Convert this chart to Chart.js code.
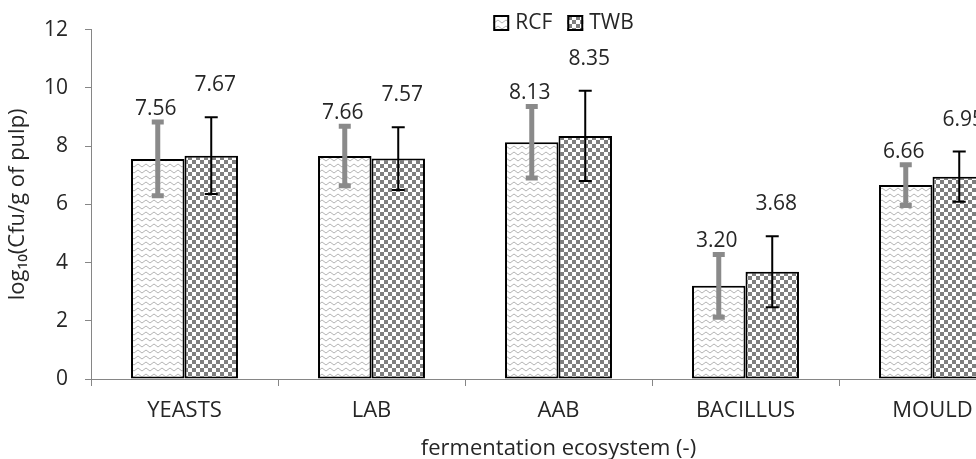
<!DOCTYPE html>
<html>
<head>
<meta charset="utf-8">
<script src="https://cdn.jsdelivr.net/npm/chart.js@4.4.0/dist/chart.umd.min.js"></script>
<style>
  html, body { margin: 0; padding: 0; background: #fff; overflow: hidden; }
</style>
</head>
<body>
<canvas id="chart" width="1040" height="459"></canvas>
<script>
const categories = ["YEASTS", "LAB", "AAB", "BACILLUS", "MOULD"];
const seriesNames = ["RCF", "TWB"];
const rcfValues = [7.56, 7.66, 8.13, 3.20, 6.66];
const twbValues = [7.67, 7.57, 8.35, 3.68, 6.95];
const rcfErrors = [1.27, 1.02, 1.23, 1.08, 0.70];
const twbErrors = [1.32, 1.08, 1.55, 1.22, 0.86];
const yTicks = [0, 2, 4, 6, 8, 10, 12];

const FONT = "'Open Sans', sans-serif";
const TEXT = "#262626";
const AXIS = "#868686";

// ---------------- PATTERNS ----------------
function makePattern(w, h, draw) {
  const pc = document.createElement("canvas");
  pc.width = w;
  pc.height = h;
  const g = pc.getContext("2d");
  g.fillStyle = "#fff";
  g.fillRect(0, 0, w, h);
  draw(g);
  return document.createElement("canvas").getContext("2d").createPattern(pc, "repeat");
}

const wavePattern = makePattern(8, 6, g => {
  g.strokeStyle = "#b4b4b4";
  g.lineWidth = 1;
  g.beginPath();
  g.moveTo(0, 3.5);
  g.quadraticCurveTo(2, 0.5, 4, 3.5);
  g.quadraticCurveTo(6, 6.5, 8, 3.5);
  g.stroke();
});

const checkPattern = makePattern(8, 8, g => {
  g.fillStyle = "#7f7f7f";
  g.fillRect(0, 0, 4, 4);
  g.fillRect(4, 4, 4, 4);
});

// ---------------- PLUGINS ----------------
const errorBars = {
  id: "errorBars",
  afterDatasetsDraw(chart, args, opts) {
    const { ctx } = chart;
    const y = chart.scales.y;
    chart.data.datasets.forEach((ds, i) => {
      const st = opts.styles[i];
      chart.getDatasetMeta(i).data.forEach((bar, j) => {
        const v = ds.data[j], e = ds.errors[j];
        const top = y.getPixelForValue(v + e);
        const bot = y.getPixelForValue(v - e);
        ctx.save();
        ctx.strokeStyle = st.color;
        ctx.lineWidth = st.width;
        ctx.lineCap = "butt";
        ctx.beginPath();
        ctx.moveTo(bar.x, top);
        ctx.lineTo(bar.x, bot);
        ctx.moveTo(bar.x - st.cap / 2, top);
        ctx.lineTo(bar.x + st.cap / 2, top);
        ctx.moveTo(bar.x - st.cap / 2, bot);
        ctx.lineTo(bar.x + st.cap / 2, bot);
        ctx.stroke();
        ctx.restore();
      });
    });
  }
};

const valueLabels = {
  id: "valueLabels",
  afterDatasetsDraw(chart, args, opts) {
    const { ctx } = chart;
    const y = chart.scales.y;
    ctx.save();
    ctx.font = opts.font;
    ctx.fillStyle = TEXT;
    ctx.textAlign = "center";
    ctx.textBaseline = "middle";
    chart.data.datasets.forEach((ds, i) => {
      chart.getDatasetMeta(i).data.forEach((bar, j) => {
        const top = y.getPixelForValue(ds.data[j] + ds.errors[j]);
        ctx.fillText(ds.data[j].toFixed(2), bar.x + opts.dx[i], top - opts.lift[i]);
      });
    });
    ctx.restore();
  }
};

const patternLegend = {
  id: "patternLegend",
  afterDraw(chart, args, opts) {
    const { ctx, chartArea } = chart;
    ctx.save();
    ctx.font = opts.font;
    ctx.textBaseline = "middle";
    const items = chart.data.datasets.map(ds => ({ ds, w: ctx.measureText(ds.label).width }));
    let total = 0;
    items.forEach((it, k) => { total += opts.box + opts.gap + it.w + (k ? opts.spacing : 0); });
    let x = (chartArea.left + chartArea.right) / 2 + opts.shift - total / 2;
    items.forEach(it => {
      ctx.fillStyle = it.ds.backgroundColor;
      ctx.fillRect(x, opts.y - opts.box / 2, opts.box, opts.box);
      ctx.strokeStyle = "#000";
      ctx.lineWidth = 2;
      ctx.strokeRect(x + 1, opts.y - opts.box / 2 + 1, opts.box - 2, opts.box - 2);
      ctx.fillStyle = TEXT;
      ctx.fillText(it.ds.label, x + opts.box + opts.gap, opts.y);
      x += opts.box + opts.gap + it.w + opts.spacing;
    });
    ctx.restore();
  }
};

// ---------------- CHART ----------------
new Chart(document.getElementById("chart"), {
  type: "bar",
  data: {
    labels: categories,
    datasets: [
      {
        label: seriesNames[0],
        data: rcfValues,
        errors: rcfErrors,
        backgroundColor: wavePattern,
        borderColor: "#000",
        borderWidth: 2,
        borderSkipped: false
      },
      {
        label: seriesNames[1],
        data: twbValues,
        errors: twbErrors,
        backgroundColor: checkPattern,
        borderColor: "#000",
        borderWidth: 2,
        borderSkipped: false
      }
    ]
  },
  options: {
    responsive: false,
    animation: false,
    events: [],
    layout: { padding: { top: 24, right: 14, left: 0, bottom: 0 } },
    datasets: { bar: { categoryPercentage: 0.572, barPercentage: 1 } },
    scales: {
      x: {
        grid: { drawOnChartArea: false, drawTicks: true, tickLength: 7, color: AXIS, offset: true },
        border: { color: AXIS, width: 1 },
        ticks: { color: TEXT, font: { family: FONT, size: 22 }, padding: 12, maxRotation: 0, autoSkip: false },
        title: {
          display: true,
          text: "fermentation ecosystem (-)",
          color: TEXT,
          font: { family: FONT, size: 22, lineHeight: 1 },
          padding: { top: 0, bottom: -1 }
        },
        afterFit: s => { s.height = 80; }
      },
      y: {
        min: yTicks[0],
        max: yTicks[yTicks.length - 1],
        afterBuildTicks: s => { s.ticks = yTicks.map(v => ({ value: v })); },
        grid: { drawOnChartArea: false, drawTicks: true, tickLength: 6, color: AXIS },
        border: { color: AXIS, width: 1 },
        ticks: { color: TEXT, font: { family: FONT, size: 21 }, padding: 17 },
        title: {
          display: true,
          text: "log\u2081\u2080(Cfu/g of pulp)",
          color: TEXT,
          font: { family: FONT, size: 22, lineHeight: 1 },
          padding: { top: 7, bottom: 0 }
        },
        afterFit: s => { s.width = 91; }
      }
    },
    plugins: {
      legend: { display: false },
      tooltip: { enabled: false },
      errorBars: {
        styles: [
          { color: "#8a8a8a", width: 5, cap: 12 },
          { color: "#000", width: 2, cap: 13 }
        ]
      },
      valueLabels: { font: "21px " + FONT, lift: [13, 32], dx: [-2, 4] },
      patternLegend: { font: "21px " + FONT, y: 23, box: 16, gap: 6, spacing: 15, shift: 5 }
    }
  },
  plugins: [errorBars, valueLabels, patternLegend]
});
</script>
</body>
</html>
